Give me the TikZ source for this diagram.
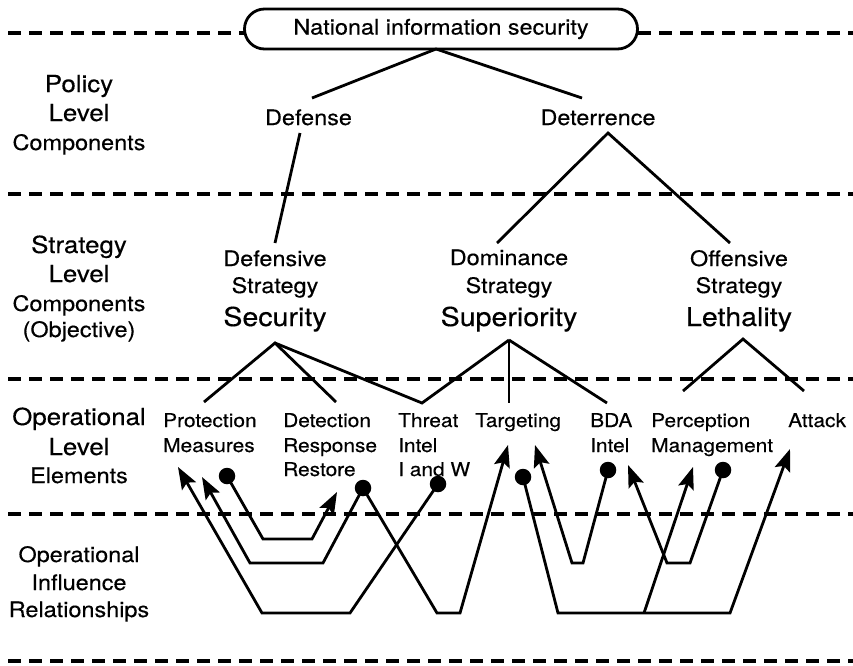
\documentclass[tikz,border=0pt]{standalone}
\usepackage{fontspec}
\setmainfont[FakeStretch=1.1,FakeBold=0.35]{TeX Gyre Heros}
\usetikzlibrary{arrows.meta}

\begin{document}
\begin{tikzpicture}[x=1pt,y=-1pt,
  sidebig/.style={font=\fontsize{23.5}{28}\selectfont, anchor=base, inner sep=0pt},
  sidesmall/.style={font=\fontsize{21.3}{25}\selectfont, anchor=base, inner sep=0pt},
  comp/.style={font=\fontsize{21.3}{25}\selectfont, anchor=base, inner sep=0pt},
  objective/.style={font=\fontsize{26}{30}\selectfont, anchor=base, inner sep=0pt},
  elem/.style={font=\fontsize{19}{23}\selectfont, anchor=base west, inner sep=0pt},
  branch/.style={line width=2.8pt},
  flow/.style={line width=2.8pt, -{Stealth[length=22pt,width=16pt,inset=4pt]}},
  source/.style={circle, fill=black, inner sep=0pt, minimum size=16.5pt},
  level/.style={line width=3.2pt, dash pattern=on 13pt off 8pt},
]
\useasboundingbox (0,0) rectangle (853,665);

% ---- root box and level separators ----
\node[draw, line width=2.8pt, rounded corners=20pt, minimum width=393pt,
      minimum height=40pt, inner sep=0pt, text height=15.5pt, text depth=4.5pt,
      font=\fontsize{21.3}{25}\selectfont] (nis) at (441,29) {National information security};
\draw[level] (8,33) -- (244,33);
\draw[level] (638,33) -- (853,33);
\draw[level] (8,194) -- (853,194);
\draw[level] (8,379) -- (853,379);
\draw[level] (8,514) -- (853,514);
\draw[level] (8,661) -- (853,661);

% ---- row labels ----
\node[sidebig]   (polA) at (79,92)  {Policy};
\node[sidebig]   (polB) at (79,121) {Level};
\node[sidesmall] (polC) at (79,150) {Components};

\node[sidebig]   (strA) at (79,253) {Strategy};
\node[sidebig]   (strB) at (79,282) {Level};
\node[sidesmall] (strC) at (79,311) {Components};
\node[sidesmall] (strD) at (79,337) {(Objective)};

\node[sidebig]   (opA) at (79,425) {Operational};
\node[sidebig]   (opB) at (79,455) {Level};
\node[sidesmall] (opC) at (79,483) {Elements};

\node[sidesmall] (infA) at (79,562) {Operational};
\node[sidesmall] (infB) at (79,590) {Influence};
\node[sidesmall] (infC) at (79,617) {Relationships};

% ---- policy components ----
\node[comp] (defense)    at (308.5,125) {Defense};
\node[comp] (deterrence) at (598,125)   {Deterrence};

% ---- strategy components ----
\node[comp]      (dsA) at (275,266) {Defensive};
\node[comp]      (dsB) at (275,293) {Strategy};
\node[objective] (security) at (275,326) {Security};

\node[comp]      (domA) at (509,265) {Dominance};
\node[comp]      (domB) at (509,293) {Strategy};
\node[objective] (superiority) at (509,326) {Superiority};

\node[comp]      (offA) at (739,266) {Offensive};
\node[comp]      (offB) at (739,293) {Strategy};
\node[objective] (lethality) at (739,326) {Lethality};

% ---- operational elements ----
\node[elem] (prot)  at (163,427) {Protection};
\node[elem] (protB) at (163,452) {Measures};
\node[elem] (det)   at (283,427) {Detection};
\node[elem] (detB)  at (283,452) {Response};
\node[elem] (detC)  at (283,476) {Restore};
\node[elem] (thr)   at (398,427) {Threat};
\node[elem] (thrB)  at (398,452) {Intel};
\node[elem] (thrC)  at (398,476) {I and W};
\node[elem] (tgt)   at (475,427) {Targeting};
\node[elem] (bda)   at (590,427) {BDA};
\node[elem] (bdaB)  at (590,452) {Intel};
\node[elem] (per)   at (651,427) {Perception};
\node[elem] (perB)  at (651,452) {Management};
\node[elem] (att)   at (788,427) {Attack};

% ---- tree anchor points ----
\coordinate (nisFoot)  at (436,49);
\coordinate (defTop)   at (312,98);
\coordinate (detTop)   at (582,98);
\coordinate (defFoot)  at (300,133);
\coordinate (dsTop)    at (275,243);
\coordinate (detApex)  at (608,133);
\coordinate (domTop)   at (497,243);
\coordinate (offTop)   at (730,243);
\coordinate (secApex)  at (275,343);
\coordinate (supApex)  at (509,340);
\coordinate (letApex)  at (743,339);
\coordinate (protTop)  at (204,402);
\coordinate (detcTop)  at (336,402);
\coordinate (thrTop)   at (422,403);
\coordinate (tgtTop)   at (509,403);
\coordinate (bdaTop)   at (607,403);
\coordinate (perTop)   at (683,391);
\coordinate (attTop)   at (804,391);

\draw[branch] (defTop) -- (nisFoot) -- (detTop);
\draw[branch] (defFoot) -- (dsTop);
\draw[branch] (domTop) -- (detApex) -- (offTop);
\draw[branch] (protTop) -- (secApex) -- (detcTop);
\draw[branch] (secApex) -- (thrTop) -- (supApex);
\draw[branch] (supApex) -- (tgtTop);
\draw[branch] (supApex) -- (bdaTop);
\draw[branch] (perTop) -- (letApex) -- (attTop);

% ---- influence sources ----
\node[source] (sProt) at (227,476) {};
\node[source] (sDet)  at (363,488) {};
\node[source] (sThr)  at (438,484) {};
\node[source] (sTgt)  at (523,477) {};
\node[source] (sBda)  at (608,470) {};
\node[source] (sPer)  at (723,470) {};

% ---- influence targets ----
\coordinate (tProtA) at (178,467);
\coordinate (tProtB) at (202,477);
\coordinate (tDet)   at (337,492);
\coordinate (tTgtA)  at (508,445);
\coordinate (tTgtB)  at (535,445);
\coordinate (tBda)   at (628,465);
\coordinate (tPer)   at (693,467);
\coordinate (tAtt)   at (790,449);
\coordinate (split)  at (644,613);

% ---- influence relationships ----
\draw[flow] (sThr.center) -- (350,613) -- (262,613) -- (tProtA);
\draw[flow] (sDet.center) -- (323,563) -- (250,563) -- (tProtB);
\draw[flow] (sProt.center) -- (263,539) -- (312,539) -- (tDet);
\draw[flow] (sDet.center) -- (437,613) -- (460,613) -- (tTgtA);
\draw[flow] (sTgt.center) -- (558,613) -- (730,613) -- (tAtt);
\draw[flow] (split) -- (tPer);
\draw[flow] (sBda.center) -- (583,563) -- (572,563) -- (tTgtB);
\draw[flow] (sPer.center) -- (690,563) -- (667,563) -- (tBda);

\end{tikzpicture}
\end{document}
